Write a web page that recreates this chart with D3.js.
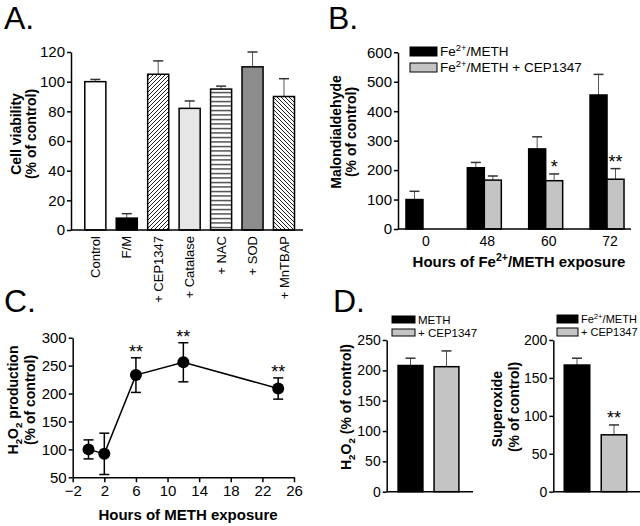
<!DOCTYPE html>
<html>
<head>
<meta charset="utf-8">
<script src="https://cdn.jsdelivr.net/npm/d3@7"></script>
<style>
body { margin: 0; background: #fff; }
svg text { font-family: "Liberation Sans", Arial, Helvetica, sans-serif; fill: #000; }
</style>
</head>
<body>
<svg id="fig" width="640" height="526"></svg>
<script>
// ---- data ----

// A. cell viability
var treatmentsA = ["Control", "F/M", "+ CEP1347", "+ Catalase", "+ NAC", "+ SOD", "+ MnTBAP"];
var viabilityA = [100, 8, 105, 82, 95, 110, 90];
var viabilityErrA = [1.5, 3, 9, 5, 2, 10, 12];
var ticksA = [0, 20, 40, 60, 80, 100, 120];

// B. malondialdehyde
var hoursB = ["0", "48", "60", "72"];
var mdaMeth = [100, 208, 272, 455];
var mdaMethErr = [28, 18, 41, 70];
var mdaCep = [null, 166, 164, 169];
var mdaCepErr = [null, 14, 23, 36];
var starsB = ["", "", "*", "**"];
var ticksB = [0, 100, 200, 300, 400, 500, 600];

// C. H2O2 time course
var hoursC = [0, 2, 6, 12, 24];
var h2o2C = [100, 92, 233, 256, 209];
var h2o2ErrC = [17, 37, 31, 35, 19];
var starsC = ["", "", "**", "**", "**"];
var xticksC = [-2, 2, 6, 10, 14, 18, 22, 26];
var yticksC = [50, 100, 150, 200, 250, 300];

// D. H2O2 and superoxide
var groupsD = ["METH", "+ CEP1347"];
var h2o2D = [208, 206];
var h2o2ErrD = [12, 26];
var superD = [167, 75];
var superErrD = [9, 13];
var starsD = ["", "**"];
var ticksD1 = [0, 50, 100, 150, 200, 250];
var ticksD2 = [0, 50, 100, 150, 200];

// styles
var fillsA = ["#fff", "#000", "url(#diagUp)", "#e6e6e6", "url(#horiz)", "#8c8c8c", "url(#diagDown)"];
var black = "#000", gray = "#c4c4c4";

var svg = d3.select("#fig");

// hatch patterns
var defs = svg.append("defs");
var p1 = defs.append("pattern").attr("id", "diagUp").attr("patternUnits", "userSpaceOnUse")
    .attr("width", 4).attr("height", 4);
p1.append("rect").attr("width", 4).attr("height", 4).attr("fill", "#fff");
p1.append("path").attr("d", "M-1,1 l2,-2 M0,4 l4,-4 M3,5 l2,-2").attr("stroke", "#222").attr("stroke-width", 1);
var p2 = defs.append("pattern").attr("id", "diagDown").attr("patternUnits", "userSpaceOnUse")
    .attr("width", 4).attr("height", 4);
p2.append("rect").attr("width", 4).attr("height", 4).attr("fill", "#fff");
p2.append("path").attr("d", "M-1,3 l2,2 M0,0 l4,4 M3,-1 l2,2").attr("stroke", "#222").attr("stroke-width", 1);
var p3 = defs.append("pattern").attr("id", "horiz").attr("patternUnits", "userSpaceOnUse")
    .attr("width", 4).attr("height", 4.5);
p3.append("rect").attr("width", 4).attr("height", 4.5).attr("fill", "#fff");
p3.append("line").attr("x1", 0).attr("x2", 4).attr("y1", 2.5).attr("y2", 2.5).attr("stroke", "#222").attr("stroke-width", 1.2);

// ---- helpers ----
function rich(text, parts, fs) {
    var shift = 0;
    parts.forEach(function (p) {
        var target = p.sub ? fs * 0.3 : (p.sup ? -fs * 0.4 : 0);
        text.append("tspan")
            .attr("dy", target - shift)
            .style("font-size", (p.sub || p.sup) ? (fs * 0.7) + "px" : fs + "px")
            .text(p.t);
        shift = target;
    });
    return text;
}

function yAxis(g, scale, x, ticks, fs) {
    var ax = g.append("g")
        .attr("transform", "translate(" + x + ",0)")
        .call(d3.axisLeft(scale).tickValues(ticks).tickSize(4).tickSizeOuter(0).tickPadding(2));
    ax.select(".domain").attr("stroke-width", 1.5);
    ax.selectAll(".tick line").attr("stroke-width", 1.5);
    ax.selectAll("text").style("font-size", fs + "px");
    return ax;
}

function hLine(g, x1, x2, y) {
    g.append("line").attr("x1", x1).attr("x2", x2).attr("y1", y).attr("y2", y)
        .attr("stroke", "#000").attr("stroke-width", 1.5);
}

function errUp(g, cx, yTop, yVal) {
    g.append("line").attr("x1", cx).attr("x2", cx).attr("y1", yVal).attr("y2", yTop)
        .attr("stroke", "#555").attr("stroke-width", 1);
    g.append("line").attr("x1", cx - 5).attr("x2", cx + 5).attr("y1", yTop).attr("y2", yTop)
        .attr("stroke", "#333").attr("stroke-width", 1.5);
}

function vLabel(g, x, cy, parts, fs) {
    var t = g.append("text")
        .attr("transform", "translate(" + x + "," + cy + ") rotate(-90)")
        .attr("text-anchor", "middle")
        .style("font-weight", "bold");
    rich(t, parts, fs);
}

function panelLetter(x, y, s) {
    svg.append("text").attr("x", x).attr("y", y).style("font-size", "32px").text(s);
}

// ---- A ----
var gA = svg.append("g");
var yA = d3.scaleLinear().domain([0, 120]).range([230, 52]);
var xA = d3.scaleBand().domain(treatmentsA).range([79.6, 299.7]).paddingInner(0.33).paddingOuter(0.165);

treatmentsA.forEach(function (t, i) {
    var v = viabilityA[i];
    errUp(gA, xA(t) + xA.bandwidth() / 2, yA(v + viabilityErrA[i]), yA(v));
    gA.append("rect")
        .attr("x", xA(t)).attr("width", xA.bandwidth())
        .attr("y", yA(v)).attr("height", yA(0) - yA(v))
        .attr("fill", fillsA[i]).attr("stroke", "#000").attr("stroke-width", 1.5);
});
yAxis(gA, yA, 71, ticksA, 15);
hLine(gA, 71, 303, yA(0));
var axA = gA.append("g").attr("transform", "translate(0," + yA(0) + ")")
    .call(d3.axisBottom(xA).tickSize(0));
axA.select(".domain").remove();
axA.selectAll("text")
    .attr("transform", "rotate(-90)")
    .attr("x", -6).attr("y", 0).attr("dy", "0.35em")
    .attr("text-anchor", "end")
    .style("font-size", "13px");
vLabel(gA, 21, 134, [{t: "Cell viability"}], 14);
vLabel(gA, 36, 134, [{t: "(% of control)"}], 14);
panelLetter(4, 29, "A.");

// ---- B ----
var gB = svg.append("g");
var yB = d3.scaleLinear().domain([0, 600]).range([229, 52.3]);
var xB = d3.scaleBand().domain(hoursB).range([392.3, 637.7]);
var subB = d3.scaleBand().domain(["meth", "cep"]).range([-17, 17]);

hoursB.forEach(function (h, i) {
    var c = xB(h) + xB.bandwidth() / 2;
    var series = [
        {k: "meth", v: mdaMeth[i], e: mdaMethErr[i], f: black},
        {k: "cep", v: mdaCep[i], e: mdaCepErr[i], f: gray}
    ];
    series.forEach(function (s) {
        if (s.v === null) return;
        var x = c + subB(s.k);
        errUp(gB, x + subB.bandwidth() / 2, yB(s.v + s.e), yB(s.v));
        gB.append("rect")
            .attr("x", x).attr("width", subB.bandwidth())
            .attr("y", yB(s.v)).attr("height", yB(0) - yB(s.v))
            .attr("fill", s.f).attr("stroke", "#000").attr("stroke-width", 1.5);
    });
    if (starsB[i]) {
        gB.append("text")
            .attr("x", c + subB("cep") + subB.bandwidth() / 2)
            .attr("y", yB(mdaCep[i] + mdaCepErr[i]) - 1)
            .attr("text-anchor", "middle").style("font-size", "18px")
            .text(starsB[i]);
    }
});
yAxis(gB, yB, 398, ticksB, 15);
hLine(gB, 398, 631, yB(0));
var axB = gB.append("g").attr("transform", "translate(3," + yB(0) + ")")
    .call(d3.axisBottom(xB).tickSize(0).tickPadding(7));
axB.select(".domain").remove();
axB.selectAll("text").style("font-size", "14px");
rich(gB.append("text").attr("x", 519).attr("y", 267).attr("text-anchor", "middle").style("font-weight", "bold"),
    [{t: "Hours of Fe"}, {t: "2+", sup: true}, {t: "/METH exposure"}], 15);
vLabel(gB, 341, 132, [{t: "Malondialdehyde"}], 14);
vLabel(gB, 356, 132, [{t: "(% of control)"}], 14);

// legend B
var legB = [{t: "/METH", f: black}, {t: "/METH + CEP1347", f: gray}];
legB.forEach(function (d, i) {
    gB.append("rect").attr("x", 410).attr("y", 47 + i * 16).attr("width", 27).attr("height", 9)
        .attr("fill", d.f).attr("stroke", "#000").attr("stroke-width", 1);
    rich(gB.append("text").attr("x", 440).attr("y", 56 + i * 16),
        [{t: "Fe"}, {t: "2+", sup: true}, {t: d.t}], 13.5);
});
panelLetter(328, 29, "B.");

// ---- C ----
var gC = svg.append("g");
var xC = d3.scaleLinear().domain([-2, 26]).range([72.7, 294]);
var yC = d3.scaleLinear().domain([50, 300]).range([477.3, 337.7]);

var axC = gC.append("g").attr("transform", "translate(0," + yC(50) + ")")
    .call(d3.axisBottom(xC).tickValues(xticksC).tickSize(5).tickSizeOuter(0).tickPadding(3));
axC.select(".domain").attr("stroke-width", 1.5);
axC.selectAll(".tick line").attr("stroke-width", 1.5);
axC.selectAll("text").style("font-size", "15px");
yAxis(gC, yC, xC(-2), yticksC, 15);

var ptsC = hoursC.map(function (h, i) { return [xC(h), yC(h2o2C[i])]; });
gC.append("path").attr("d", d3.line()(ptsC)).attr("fill", "none").attr("stroke", "#000").attr("stroke-width", 1.5);
hoursC.forEach(function (h, i) {
    var cx = xC(h), top = yC(h2o2C[i] + h2o2ErrC[i]), bot = yC(h2o2C[i] - h2o2ErrC[i]);
    gC.append("line").attr("x1", cx).attr("x2", cx).attr("y1", top).attr("y2", bot)
        .attr("stroke", "#000").attr("stroke-width", 1.5);
    [top, bot].forEach(function (y) {
        gC.append("line").attr("x1", cx - 5).attr("x2", cx + 5).attr("y1", y).attr("y2", y)
            .attr("stroke", "#000").attr("stroke-width", 1.5);
    });
    gC.append("circle").attr("cx", cx).attr("cy", yC(h2o2C[i])).attr("r", 6).attr("fill", "#000");
    if (starsC[i]) {
        gC.append("text").attr("x", cx).attr("y", top).attr("text-anchor", "middle")
            .style("font-size", "18px").text(starsC[i]);
    }
});
gC.append("text").attr("x", 188).attr("y", 520).attr("text-anchor", "middle")
    .style("font-weight", "bold").style("font-size", "15px").text("Hours of METH exposure");
vLabel(gC, 18, 400, [{t: "H"}, {t: "2", sub: true}, {t: "O"}, {t: "2", sub: true}, {t: " production"}], 14);
vLabel(gC, 35, 400, [{t: "(% of control)"}], 14);
panelLetter(4, 312, "C.");

// ---- D ----
var gD = svg.append("g");
var yD1 = d3.scaleLinear().domain([0, 250]).range([491.7, 340]);
var yD2 = d3.scaleLinear().domain([0, 200]).range([491.7, 340]);
var xD1 = d3.scaleBand().domain(groupsD).range([392.5, 464.5]).paddingInner(0.31).paddingOuter(0.155);
var xD2 = d3.scaleBand().domain(groupsD).range([558.5, 632.5]).paddingInner(0.31).paddingOuter(0.155);
var fillsD = [black, gray];

function barsD(xs, ys, vals, errs, stars) {
    groupsD.forEach(function (gname, i) {
        var cx = xs(gname) + xs.bandwidth() / 2;
        errUp(gD, cx, ys(vals[i] + errs[i]), ys(vals[i]));
        gD.append("rect")
            .attr("x", xs(gname)).attr("width", xs.bandwidth())
            .attr("y", ys(vals[i])).attr("height", ys(0) - ys(vals[i]))
            .attr("fill", fillsD[i]).attr("stroke", "#000").attr("stroke-width", 1.5);
        if (stars[i]) {
            gD.append("text").attr("x", cx).attr("y", ys(vals[i] + errs[i]) - 1)
                .attr("text-anchor", "middle").style("font-size", "18px").text(stars[i]);
        }
    });
}
barsD(xD1, yD1, h2o2D, h2o2ErrD, ["", ""]);
yAxis(gD, yD1, 386.7, ticksD1, 14);
hLine(gD, 386.7, 473, yD1(0));
barsD(xD2, yD2, superD, superErrD, starsD);
yAxis(gD, yD2, 553.3, ticksD2, 14);
hLine(gD, 553.3, 640, yD2(0));

vLabel(gD, 351, 407, [{t: "H"}, {t: "2", sub: true}, {t: "O"}, {t: "2", sub: true}, {t: " (% of control)"}], 14);
vLabel(gD, 502, 409, [{t: "Superoxide"}], 14);
vLabel(gD, 519, 407, [{t: "(% of control)"}], 14);

// legends D
var legD1 = [[{t: "METH"}], [{t: "+ CEP1347"}]];
legD1.forEach(function (parts, i) {
    gD.append("rect").attr("x", 392).attr("y", 316 + i * 13).attr("width", 23).attr("height", 7)
        .attr("fill", fillsD[i]).attr("stroke", "#000").attr("stroke-width", 1);
    rich(gD.append("text").attr("x", 418).attr("y", 324 + i * 13), parts, 11.5);
});
var legD2 = [[{t: "Fe"}, {t: "2+", sup: true}, {t: "/METH"}], [{t: "+ CEP1347"}]];
legD2.forEach(function (parts, i) {
    gD.append("rect").attr("x", 557).attr("y", 315 + i * 13).attr("width", 21).attr("height", 8)
        .attr("fill", fillsD[i]).attr("stroke", "#000").attr("stroke-width", 1);
    rich(gD.append("text").attr("x", 581).attr("y", 323 + i * 13), parts, 11);
});
panelLetter(333, 312, "D.");
</script>
</body>
</html>
